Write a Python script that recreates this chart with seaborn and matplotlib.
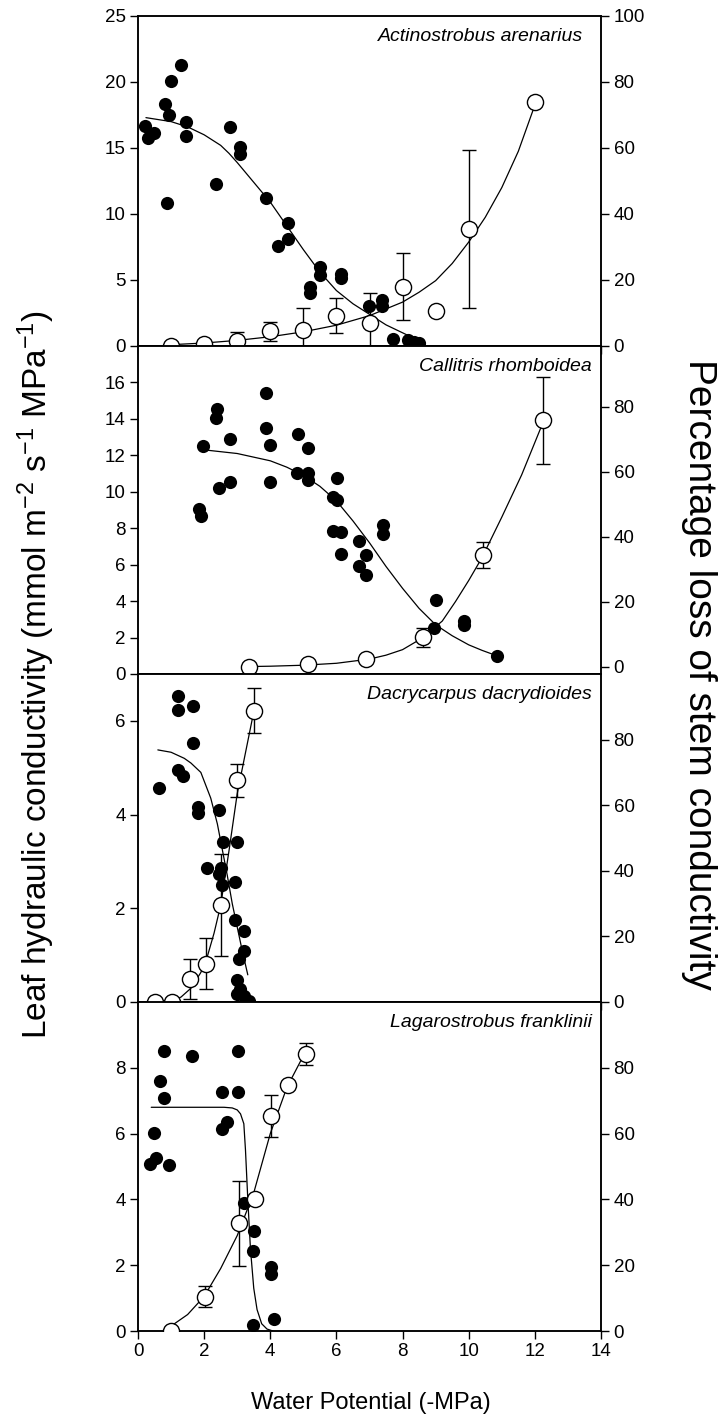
import numpy as np
import matplotlib
matplotlib.use("Agg")
import matplotlib.pyplot as plt
import seaborn as sns

sns.set_theme(style="ticks")
plt.rcParams['font.family'] = ['Liberation Sans', 'DejaVu Sans']
plt.rcParams['mathtext.fontset'] = 'custom'
plt.rcParams['mathtext.rm'] = 'Liberation Sans'
plt.rcParams['mathtext.it'] = 'Liberation Sans:italic'

# ---------------- data ----------------
species = ["Actinostrobus arenarius", "Callitris rhomboidea",
           "Dacrycarpus dacrydioides", "Lagarostrobus franklinii"]

# Panel 1 -- leaf hydraulic conductivity (filled)
p1_kx = [0.20, 0.30, 0.48, 0.81, 0.94, 0.99, 1.29, 1.45, 1.45, 0.89, 2.78, 3.09, 3.09, 2.35,
         3.88, 4.23, 4.53, 4.53, 5.21, 5.21, 5.49, 5.49, 6.15, 6.15, 6.99, 7.39, 7.39,
         7.72, 8.17, 8.35, 8.50]
p1_ky = [16.66, 15.79, 16.16, 18.32, 17.52, 20.05, 21.29, 16.96, 15.92, 10.8, 16.58, 15.1,
         14.55, 12.3, 11.2, 7.6, 9.35, 8.1, 4.5, 4.05, 6.0, 5.4, 5.45, 5.15, 3.0, 3.5, 3.05,
         0.5, 0.45, 0.32, 0.2]
p1_kfit_x = [0.24, 1.0, 1.5, 2.0, 2.5, 2.75, 3.0, 3.5, 4.0, 4.5, 5.0, 5.5, 6.0, 6.5, 7.0, 7.5, 8.0, 8.5]
p1_kfit_y = [17.3, 17.0, 16.6, 16.0, 15.2, 14.6, 13.9, 12.4, 10.9, 9.1, 7.3, 5.6, 4.2, 3.2, 2.4, 1.6, 1.0, 0.4]
# Panel 1 -- percentage loss of stem conductivity (open)
p1_px = [1, 2, 3, 4, 5, 6, 7, 8, 9, 10, 12]
p1_py = [0, 0.5, 1.6, 4.5, 4.8, 9.2, 7.0, 18.0, 10.6, 35.5, 73.8]
p1_pse = [0, 0, 2.5, 2.9, 6.6, 5.2, 9.2, 10.2, 0, 23.9, 0]
p1_pfit_x = [1, 2, 3, 4, 5, 6, 7, 8, 8.5, 9, 9.5, 10, 10.5, 11, 11.5, 12]
p1_pfit_y = [0.4, 0.9, 1.7, 2.8, 4.3, 6.3, 9.2, 13.3, 16.3, 19.8, 25, 31.5, 39, 48, 59, 73]

# Panel 2
p2_kx = [1.98, 2.38, 2.36, 2.79, 2.45, 2.79, 1.84, 1.89, 3.86, 3.86, 4.0, 4.0, 4.83, 5.14,
         4.81, 5.14, 5.14, 6.01, 5.91, 6.03, 5.91, 6.15, 6.15, 6.69, 6.89, 6.68, 6.89, 7.40,
         7.40, 9.0, 8.95, 9.85, 9.85, 10.85]
p2_ky = [12.51, 14.55, 14.04, 12.88, 10.22, 10.53, 9.08, 8.66, 15.41, 13.49, 12.55, 10.55,
         13.19, 12.40, 11.05, 11.05, 10.64, 10.73, 9.72, 9.54, 7.83, 7.80, 6.61, 7.28, 6.51,
         5.91, 5.41, 8.17, 7.71, 4.05, 2.5, 2.9, 2.7, 1.0]
p2_kfit_x = [2.0, 3.0, 4.0, 4.5, 5.0, 5.5, 6.0, 6.5, 7.0, 7.5, 8.0, 8.5, 9.0, 9.5, 10.0, 10.4, 10.85]
p2_kfit_y = [12.3, 12.1, 11.7, 11.35, 10.9, 10.3, 9.5, 8.4, 7.2, 5.9, 4.7, 3.6, 2.7, 2.1, 1.6, 1.3, 1.0]
p2_px = [3.37, 5.13, 6.9, 8.63, 10.43, 12.25]
p2_py = [0, 0.8, 2.2, 9.0, 34.3, 75.8]
p2_pse = [0, 0, 0, 3.0, 3.9, 13.3]
p2_pfit_x = [3.4, 4, 5, 6, 7, 7.5, 8, 8.6, 9.2, 9.6, 10, 10.4, 11, 11.6, 12.2]
p2_pfit_y = [0, 0.1, 0.4, 1.0, 2.3, 3.5, 5.2, 8.8, 14, 20, 26.5, 33.5, 46, 59, 74]

# Panel 3
p3_kx = [0.63, 1.22, 1.2, 1.67, 1.67, 1.2, 1.37, 1.82, 1.82, 2.1, 2.46, 2.58, 3.0, 2.44,
         2.52, 2.54, 2.94, 2.94, 3.2, 3.2, 3.05, 2.99, 2.99, 3.2, 3.35, 3.08]
p3_ky = [4.56, 6.54, 6.24, 6.32, 5.53, 4.96, 4.83, 4.17, 4.04, 2.86, 4.1, 3.42, 3.42, 2.74,
         2.85, 2.49, 2.56, 1.75, 1.52, 1.09, 0.91, 0.47, 0.18, 0.12, 0.02, 0.27]
p3_kfit_x = [0.6, 1.0, 1.4, 1.6, 1.9, 2.2, 2.4, 2.55, 2.7, 2.85, 3.0, 3.15, 3.32]
p3_kfit_y = [5.38, 5.33, 5.2, 5.1, 4.9, 4.35, 3.8, 3.25, 2.7, 2.1, 1.6, 1.1, 0.58]
p3_px = [0.51, 1.03, 1.57, 2.06, 2.5, 3.0, 3.5]
p3_py = [0, 0, 7.0, 11.7, 29.6, 67.6, 88.8]
p3_pse = [0, 0, 6.0, 7.7, 15.5, 5.1, 6.9]
p3_pfit_x = [0.5, 1.0, 1.3, 1.6, 1.9, 2.1, 2.3, 2.5, 2.75, 3.0, 3.25, 3.5]
p3_pfit_y = [0, 0.2, 1.5, 4.2, 9, 14, 21, 29.5, 46, 63.5, 76, 88.5]

# Panel 4
p4_kx = [0.35, 0.53, 0.47, 0.93, 0.78, 0.66, 0.78, 1.64, 2.55, 2.55, 2.7, 3.02, 3.02, 3.2,
         3.5, 3.47, 3.48, 4.03, 4.03, 4.11]
p4_ky = [5.09, 5.26, 6.01, 5.04, 8.51, 7.6, 7.08, 8.35, 7.25, 6.13, 6.36, 8.51, 7.27, 3.9,
         3.05, 2.44, 0.19, 1.95, 1.73, 0.36]
p4_kfit_x = [0.4, 1.0, 2.0, 2.6, 2.85, 3.0, 3.1, 3.2, 3.25, 3.32, 3.4, 3.5, 3.6, 3.74, 3.9, 4.08]
p4_kfit_y = [6.8, 6.8, 6.8, 6.8, 6.78, 6.72, 6.6, 6.3, 5.5, 4.0, 2.5, 1.3, 0.65, 0.22, 0.06, 0.0]
p4_px = [1.0, 2.04, 3.05, 3.54, 4.03, 4.55, 5.07]
p4_py = [0, 10.4, 32.7, 40.0, 65.3, 74.9, 84.2]
p4_pse = [0, 3.2, 13.0, 0, 6.4, 0, 3.4]
p4_pfit_x = [1.0, 1.5, 2.0, 2.5, 3.0, 3.5, 4.0, 4.5, 5.07]
p4_pfit_y = [1.5, 5, 10.5, 19, 29, 42, 60, 74, 85]

left_ylims = [(0, 25), (0, 18), (0, 7), (0, 10)]
left_ticks = [[0, 5, 10, 15, 20, 25], [0, 2, 4, 6, 8, 10, 12, 14, 16], [0, 2, 4, 6], [0, 2, 4, 6, 8]]
right_ylims = [(0, 100), (-2.3, 98.7), (0, 100), (0, 100)]
right_ticks = [[0, 20, 40, 60, 80, 100], [0, 20, 40, 60, 80], [0, 20, 40, 60, 80], [0, 20, 40, 60, 80]]
x_ticks = [0, 2, 4, 6, 8, 10, 12, 14]

panels = [
    (p1_kx, p1_ky, p1_kfit_x, p1_kfit_y, p1_px, p1_py, p1_pse, p1_pfit_x, p1_pfit_y),
    (p2_kx, p2_ky, p2_kfit_x, p2_kfit_y, p2_px, p2_py, p2_pse, p2_pfit_x, p2_pfit_y),
    (p3_kx, p3_ky, p3_kfit_x, p3_kfit_y, p3_px, p3_py, p3_pse, p3_pfit_x, p3_pfit_y),
    (p4_kx, p4_ky, p4_kfit_x, p4_kfit_y, p4_px, p4_py, p4_pse, p4_pfit_x, p4_pfit_y),
]

# ---------------- layout ----------------
W, H = 728, 1420
fig = plt.figure(figsize=(W / 100, H / 100), dpi=100)
fig.patch.set_facecolor("white")
x0, x1 = 138, 601
rows = [(16, 346), (346, 674), (674, 1002), (1002, 1331)]
label_right = [583, 592, 592, 592]

TICK_FS = 13.5
for i, (row, data) in enumerate(zip(rows, panels)):
    kx, ky, kfx, kfy, px, py, pse, pfx, pfy = data
    top, bot = row
    ax = fig.add_axes([x0 / W, 1 - bot / H, (x1 - x0) / W, (bot - top) / H])
    ax.set_facecolor("white")
    ax2 = ax.twinx()

    # leaf conductivity (left axis)
    sns.lineplot(x=kfx, y=kfy, ax=ax, color="black", linewidth=0.9, sort=False,
                 estimator=None, zorder=2)
    sns.scatterplot(x=kx, y=ky, ax=ax, color="black", s=90, linewidth=0, zorder=3)

    # stem PLC (right axis)
    sns.lineplot(x=pfx, y=pfy, ax=ax2, color="black", linewidth=0.9, sort=False,
                 estimator=None, zorder=2)
    pxa, pya, psa = np.array(px), np.array(py), np.array(pse)
    m = psa > 0
    ax2.errorbar(pxa[m], pya[m], yerr=psa[m], fmt="none", ecolor="black",
                 elinewidth=1.0, capsize=5, capthick=1.0, zorder=3)
    sns.scatterplot(x=px, y=py, ax=ax2, color="white", edgecolor="black", s=135,
                    linewidth=1.0, zorder=4)

    ax.set_xlim(0, 14)
    ax.set_ylim(*left_ylims[i])
    ax.set_yticks(left_ticks[i])
    ax2.set_ylim(*right_ylims[i])
    ax2.set_yticks(right_ticks[i])
    ax.set_xticks(x_ticks)
    ax.set_xlabel("")
    ax.set_ylabel("")
    ax2.set_ylabel("")

    for a in (ax, ax2):
        for s in a.spines.values():
            s.set_linewidth(1.1)
            s.set_color("black")
        a.tick_params(direction="out", length=6, width=1.0, colors="black",
                      labelsize=TICK_FS, pad=3)
    if i == 3:
        ax.tick_params(axis="x", labelbottom=True)
    else:
        ax.tick_params(axis="x", labelbottom=False)
    if i == 1:
        ax.tick_params(axis="x", length=0)

    fig.text(label_right[i] / W, 1 - (top + 12) / H, species[i], ha="right", va="top",
             style="italic", fontsize=14, color="black")

fig.text(371 / W, 1 - 1403 / H, "Water Potential (-MPa)", ha="center", va="center",
         fontsize=17, color="black")
fig.text(36 / W, 1 - 674 / H,
         r"Leaf hydraulic conductivity (mmol m$^{\mathregular{-2}}$ s$^{\mathregular{-1}}$ MPa$^{\mathregular{-1}}$)",
         rotation=90, ha="center", va="center", fontsize=24, color="black")
fig.text(699 / W, 1 - 674 / H, "Percentage loss of stem conductivity", rotation=270,
         ha="center", va="center", fontsize=28, color="black")

fig.savefig("out.png", dpi=100, facecolor="white")
